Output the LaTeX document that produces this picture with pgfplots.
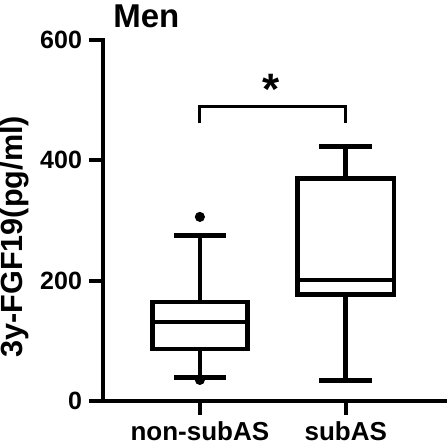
\documentclass[border=0pt]{standalone}
\usepackage{fontspec}
\setmainfont{Liberation Sans}
\usepackage{pgfplots}
\pgfplotsset{compat=1.18}

\begin{document}
\begin{tikzpicture}
\begin{axis}[
  scale only axis, width=171pt, height=180.5pt,
  xmin=0.336, xmax=2.68, ymin=0, ymax=600,
  axis lines=left, axis line style={-, line width=2pt, line cap=rect},
  xtick={1,2}, xticklabels={non-subAS, subAS},
  ytick={0,200,400,600}, minor tick num=0,
  tick align=outside, major tick length=7pt,
  tick style={black, line width=2pt},
  /pgf/number format/assume math mode=true,
  yticklabel style={font=\fontsize{12.5}{14}\selectfont\bfseries},
  xticklabel style={font=\fontsize{13}{15}\selectfont\bfseries},
  ylabel={3y-FGF19(pg/ml)},
  ylabel style={font=\fontsize{15.3}{17}\selectfont\bfseries, at={(axis description cs:-0.257,0.455)}, anchor=center},
  clip=false,
  bx/.style={black, line width=2.3pt, mark=none, line cap=rect, line join=miter},
]
% non-subAS: box, median, whiskers, caps
\addplot[bx] coordinates {(0.675,86.3) (1.325,86.3) (1.325,164.8) (0.675,164.8) (0.675,86.3)};
\addplot[bx] coordinates {(0.675,131.6) (1.325,131.6)};
\addplot[bx] coordinates {(1,164.8) (1,275.5)};
\addplot[bx] coordinates {(1,86.3) (1,38.7)};
\addplot[bx] coordinates {(0.84,275.5) (1.16,275.5)};
\addplot[bx] coordinates {(0.84,38.7) (1.16,38.7)};
\addplot[black, only marks, mark=*, mark size=2.3pt] coordinates {(1,306) (1,35)};
% subAS
\addplot[bx] coordinates {(1.67,177) (2.33,177) (2.33,369.6) (1.67,369.6) (1.67,177)};
\addplot[bx] coordinates {(1.67,200.8) (2.33,200.8)};
\addplot[bx] coordinates {(2,369.6) (2,423)};
\addplot[bx] coordinates {(2,177) (2,33.7)};
\addplot[bx] coordinates {(1.835,423) (2.165,423)};
\addplot[bx] coordinates {(1.835,33.7) (2.165,33.7)};
% significance bracket
\draw[line width=1.6pt] (axis cs:1,462) -- (axis cs:1,490) -- (axis cs:2,490) -- (axis cs:2,462);
\node[anchor=north, inner sep=0, font=\fontsize{22}{24}\selectfont\bfseries] at (axis cs:1.49,544) {*};
\node[anchor=base west, inner sep=0, font=\fontsize{16.5}{18}\selectfont\bfseries] at (axis description cs:0.029,1.036) {Men};
\end{axis}
\pgfresetboundingbox
\path[use as bounding box] (-51.5pt,-23.5pt) rectangle (172pt,200.5pt);
\end{tikzpicture}
\end{document}
